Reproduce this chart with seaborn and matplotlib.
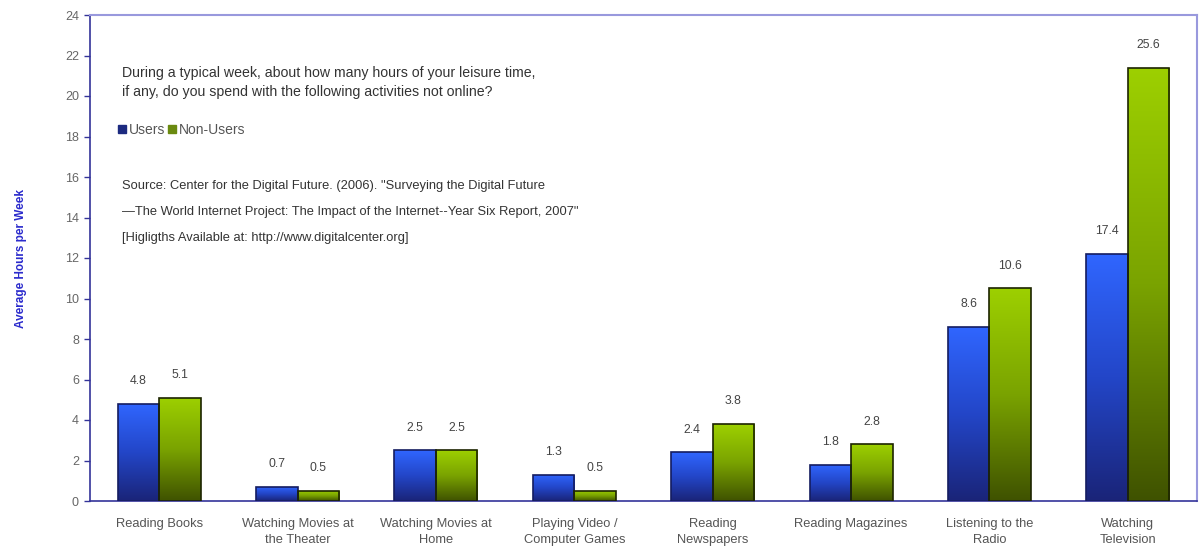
import numpy as np
import pandas as pd
import matplotlib
matplotlib.use("Agg")
import matplotlib.pyplot as plt
from matplotlib.colors import LinearSegmentedColormap
from matplotlib.patches import Patch
import seaborn as sns

# ---- data ----
categories = ["Reading Books", "Watching Movies at\nthe Theater", "Watching Movies at\nHome",
              "Playing Video /\nComputer Games", "Reading\nNewspapers", "Reading Magazines",
              "Listening to the\nRadio", "Watching\nTelevision"]
series = ["Users", "Non-Users"]
users_heights = [4.8, 0.7, 2.5, 1.3, 2.4, 1.8, 8.6, 12.2]
nonusers_heights = [5.1, 0.5, 2.5, 0.5, 3.8, 2.8, 10.5, 21.4]
users_labels = ["4.8", "0.7", "2.5", "1.3", "2.4", "1.8", "8.6", "17.4"]
nonusers_labels = ["5.1", "0.5", "2.5", "0.5", "3.8", "2.8", "10.6", "25.6"]
yticks = list(range(0, 25, 2))

df = pd.DataFrame({
    "Activity": categories * 2,
    "Group": [series[0]] * len(categories) + [series[1]] * len(categories),
    "Hours": users_heights + nonusers_heights,
})

sns.set_theme(style="white")
plt.rcParams['font.family'] = ['Liberation Sans', 'DejaVu Sans']

W, H = 1202, 554
fig = plt.figure(figsize=(W / 100, H / 100), dpi=100)
ax = fig.add_axes([90 / W, 1 - 501 / H, (1197 - 90) / W, (501 - 15) / H])

sns.barplot(data=df, x="Activity", y="Hours", hue="Group", order=categories,
            hue_order=series, palette=["#2848d8", "#7fae00"], width=0.6,
            dodge=True, ax=ax, legend=False, saturation=1)

ax.set_ylim(0, 24)
ax.set_xlim(-0.5, len(categories) - 0.5)
ax.set_yticks(yticks)
ax.set_yticklabels([str(t) for t in yticks], fontsize=9, color="#666666")
ax.tick_params(axis="y", direction="out", length=4, width=1, color="#333399", pad=4, left=True)
ax.tick_params(axis="x", length=0, pad=12)
ax.set_xticklabels(categories, fontsize=9.3, color="#555555", linespacing=1.45)
ax.set_xlabel("")
ax.set_ylabel("Average Hours per Week", fontsize=8.5, fontweight="bold", color="#2a2acc", labelpad=27)

for side in ["left", "bottom"]:
    ax.spines[side].set_color("#333399")
    ax.spines[side].set_linewidth(1.2)
for side in ["top", "right"]:
    ax.spines[side].set_color("#9999dd")
    ax.spines[side].set_linewidth(1.5)

cmaps = [LinearSegmentedColormap.from_list("b", ["#1a2478", "#2346c8", "#3066ff"]),
         LinearSegmentedColormap.from_list("g", ["#3f5200", "#7aa300", "#9dd000"])]
edges = ["#141c60", "#1c2400"]
labels_all = [users_labels, nonusers_labels]
grad = np.linspace(1, 0, 256).reshape(-1, 1)
for ci, cont in enumerate(ax.containers):
    for bi, bar in enumerate(cont.patches):
        x, y = bar.get_x(), bar.get_y()
        w, h = bar.get_width(), bar.get_height()
        bar.set_facecolor("none")
        bar.set_edgecolor(edges[ci])
        bar.set_linewidth(1.2)
        bar.set_zorder(3)
        im = ax.imshow(grad, extent=[x, x + w, y, y + h], cmap=cmaps[ci], aspect="auto",
                       origin="upper", zorder=2, interpolation="bilinear")
        im.set_clip_path(bar)
        ax.annotate(labels_all[ci][bi], (x + w / 2, y + h), xytext=(0, 12),
                    textcoords="offset points", ha="center", va="bottom",
                    fontsize=8.8, color="#444444")

ax.set_ylim(0, 24)
ax.set_xlim(-0.5, len(categories) - 0.5)

def fx(px):
    return px / W

def fy(py):
    return 1 - py / H

q = dict(fontsize=10.2, color="#333333", va="center", ha="left")
s = dict(fontsize=9.3, color="#333333", va="center", ha="left")
fig.text(fx(122), fy(73), "During a typical week, about how many hours of your leisure time,", **q)
fig.text(fx(122), fy(92), "if any, do you spend with the following activities not online?", **q)

handles = [Patch(facecolor="#1c2a80", edgecolor="#1c2a80"), Patch(facecolor="#6a8a10", edgecolor="#6a8a10")]
fig.legend(handles, series, loc="center left", bbox_to_anchor=(fx(118), fy(130)), ncol=2,
           frameon=False, handlelength=0.55, handleheight=0.55, handletextpad=0.25,
           columnspacing=0.2, fontsize=10, labelcolor="#555555", borderaxespad=0, borderpad=0)

fig.text(fx(122), fy(186), "Source: Center for the Digital Future. (2006). \"Surveying the Digital Future", **s)
fig.text(fx(122), fy(212), "\u2014The World Internet Project: The Impact of the Internet--Year Six Report, 2007\"", **s)
fig.text(fx(122), fy(238), "[Higligths Available at: http://www.digitalcenter.org]", **s)

fig.savefig("out.png", dpi=100, facecolor="white")
